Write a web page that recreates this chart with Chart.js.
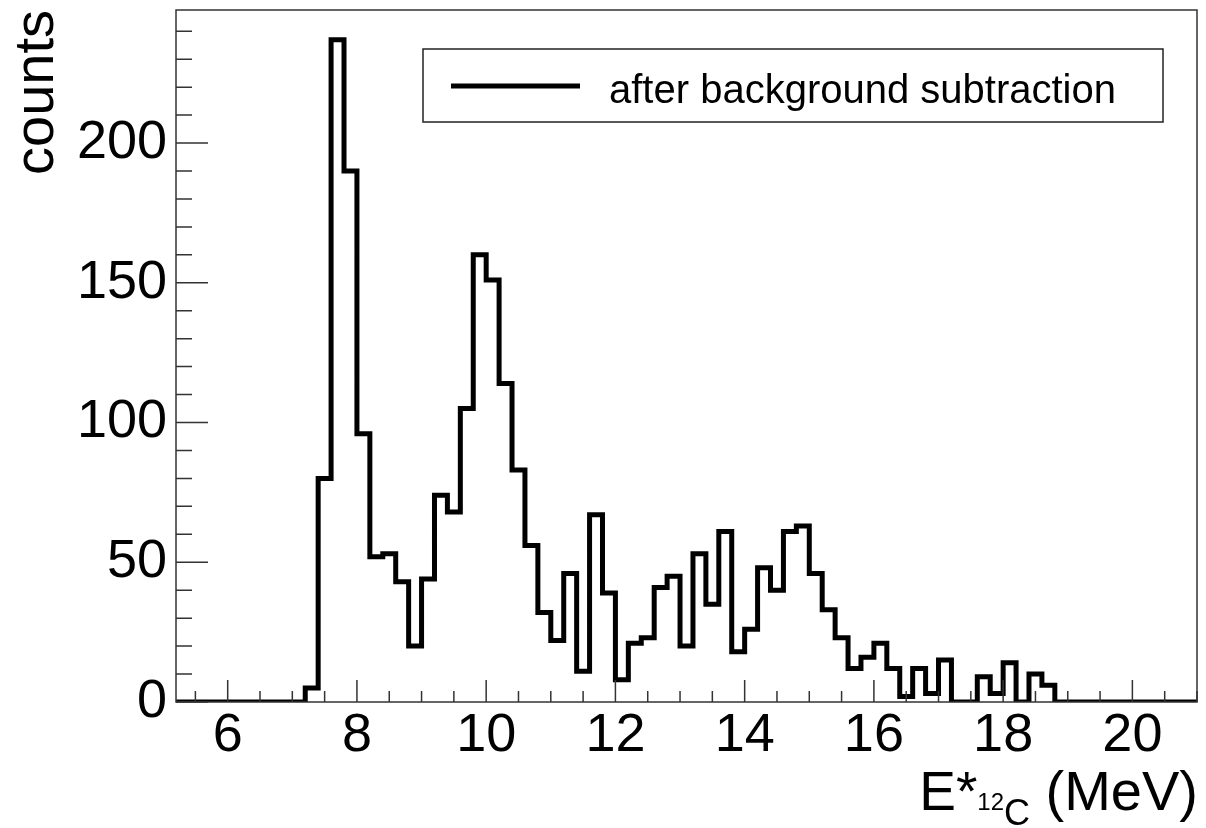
<!DOCTYPE html>
<html>
<head>
<meta charset="utf-8">
<script src="https://cdn.jsdelivr.net/npm/chart.js@4/dist/chart.umd.min.js"></script>
<style>
  html, body { margin: 0; padding: 0; background: #fff; }
  #wrap { width: 1206px; height: 828px; }
</style>
</head>
<body>
<div id="wrap"><canvas id="histChart" width="1206" height="828"></canvas></div>
<script>
// histogram: 0.2 MeV bins from 5.2 to 21.0 MeV
const binLow = 5.2;
const binWidth = 0.2;
const counts = [
    0, 0, 0, 0, 0, 0, 0, 0, 0,          // 5.2 - 7.0
    0, 5, 80, 237, 190,                  // 7.0 - 8.0
    96, 52, 53, 43, 20,                  // 8.0 - 9.0
    44, 74, 68, 105, 160,                // 9.0 - 10.0
    151, 114, 83, 56, 32,                // 10.0 - 11.0
    22, 46, 11, 67, 39,                  // 11.0 - 12.0
    8, 21, 23, 41, 45,                   // 12.0 - 13.0
    20, 53, 35, 61, 18,                  // 13.0 - 14.0
    26, 48, 40, 61, 63,                  // 14.0 - 15.0
    46, 33, 23, 12, 16,                  // 15.0 - 16.0
    21, 12, 2, 12, 3,                    // 16.0 - 17.0
    15, 0, 0, 9, 3,                      // 17.0 - 18.0
    14, 0, 10, 6, 0,                     // 18.0 - 19.0
    0, 0, 0, 0, 0,                       // 19.0 - 20.0
    0, 0, 0, 0, 0                        // 20.0 - 21.0
];
const seriesLabel = 'after background subtraction';
const xRange = [5.2, 21.0];
const yRange = [0, 247.6];
const xTickLabels = [6, 8, 10, 12, 14, 16, 18, 20];
const yTickLabels = [0, 50, 100, 150, 200];

const FONT = "'Liberation Sans', Arial, sans-serif";

// step outline: one point at each bin's low edge, plus closing point at the last edge
const points = counts.map((c, i) => ({ x: +(binLow + i * binWidth).toFixed(2), y: c }));
points.push({ x: +(binLow + counts.length * binWidth).toFixed(2), y: counts[counts.length - 1] });

// frame + inward ROOT-style ticks
const framePlugin = {
    id: 'frame',
    afterDraw(chart) {
        const { ctx, chartArea: a, scales } = chart;
        const xs = scales.x, ys = scales.y;
        ctx.save();
        ctx.strokeStyle = '#333';
        ctx.lineWidth = 1.5;
        ctx.beginPath();
        // x ticks: minor every 0.5, major every 2
        const x0 = Math.ceil(xs.min / 0.5);
        const x1 = Math.floor(xs.max / 0.5);
        for (let k = x0; k <= x1; k++) {
            const px = xs.getPixelForValue(k * 0.5);
            const len = (k % 4 === 0) ? 22 : 11;
            ctx.moveTo(px, a.bottom);
            ctx.lineTo(px, a.bottom - len);
        }
        // y ticks: minor every 10, major every 50
        const y1 = Math.floor(ys.max / 10);
        for (let k = 0; k <= y1; k++) {
            const py = ys.getPixelForValue(k * 10);
            const len = (k % 5 === 0) ? 32 : 16;
            ctx.moveTo(a.left, py);
            ctx.lineTo(a.left + len, py);
        }
        ctx.stroke();
        ctx.strokeRect(a.left, a.top, a.right - a.left, a.bottom - a.top);
        ctx.restore();
    }
};

// boxed legend with line sample
const legendPlugin = {
    id: 'boxLegend',
    afterDraw(chart) {
        const ctx = chart.ctx;
        const ds = chart.data.datasets[0];
        ctx.save();
        ctx.fillStyle = '#fff';
        ctx.fillRect(423, 49, 740, 73);
        ctx.strokeStyle = '#222';
        ctx.lineWidth = 1.5;
        ctx.strokeRect(423, 49, 740, 73);
        ctx.strokeStyle = ds.borderColor;
        ctx.lineWidth = ds.borderWidth;
        ctx.beginPath();
        ctx.moveTo(451, 86);
        ctx.lineTo(580, 86);
        ctx.stroke();
        ctx.fillStyle = '#000';
        ctx.font = '40px ' + FONT;
        ctx.textBaseline = 'alphabetic';
        ctx.fillText(ds.label, 609, 103);
        ctx.restore();
    }
};

// x title with sub/superscript parts: E*_{12C} (MeV)
const xTitlePlugin = {
    id: 'xTitle',
    afterDraw(chart) {
        const ctx = chart.ctx;
        const parts = [
            { t: 'E*', size: 55, dy: 0 },
            { t: '12', size: 24, dy: 0 },
            { t: 'C', size: 36, dy: 15 },
            { t: ' (MeV)', size: 56, dy: 0 }
        ];
        ctx.save();
        ctx.fillStyle = '#000';
        ctx.textBaseline = 'alphabetic';
        let total = 0;
        parts.forEach(p => { ctx.font = p.size + 'px ' + FONT; p.w = ctx.measureText(p.t).width; total += p.w; });
        let x = chart.chartArea.right + 1 - total;
        parts.forEach(p => {
            ctx.font = p.size + 'px ' + FONT;
            ctx.fillText(p.t, x, 810 + p.dy);
            x += p.w;
        });
        ctx.restore();
    }
};

const ctxHist = document.getElementById('histChart').getContext('2d');
const histChart = new Chart(ctxHist, {
    type: 'line',
    data: {
        datasets: [{
            label: seriesLabel,
            data: points,
            stepped: true,
            borderColor: '#000',
            borderWidth: 5,
            pointRadius: 0,
            fill: false,
            tension: 0
        }]
    },
    options: {
        responsive: false,
        animation: false,
        layout: { padding: { left: 0, right: 9, top: 10, bottom: 0 } },
        plugins: {
            legend: { display: false },
            tooltip: { enabled: false }
        },
        scales: {
            x: {
                type: 'linear',
                min: xRange[0],
                max: xRange[1],
                grid: { display: false },
                border: { display: false },
                ticks: {
                    padding: -6,
                    color: '#000',
                    font: { family: FONT, size: 54 },
                    maxRotation: 0,
                    autoSkip: false
                },
                afterBuildTicks(scale) { scale.ticks = xTickLabels.map(v => ({ value: v })); },
                afterFit(scale) {
                    scale.height = 126;
                    scale.paddingLeft = 0;
                    scale.paddingRight = 0;
                }
            },
            y: {
                min: yRange[0],
                max: yRange[1],
                grid: { display: false },
                border: { display: false },
                ticks: {
                    padding: 1,
                    color: '#000',
                    font: { family: FONT, size: 54 }
                },
                title: {
                    display: true,
                    text: 'counts',
                    align: 'end',
                    color: '#000',
                    font: { family: FONT, size: 56 },
                    padding: { top: 4, bottom: 0 }
                },
                afterBuildTicks(scale) { scale.ticks = yTickLabels.map(v => ({ value: v })); },
                afterFit(scale) {
                    scale.width = 176;
                    scale.paddingTop = 0;
                    scale.paddingBottom = 0;
                }
            }
        }
    },
    plugins: [framePlugin, legendPlugin, xTitlePlugin]
});
</script>
</body>
</html>
